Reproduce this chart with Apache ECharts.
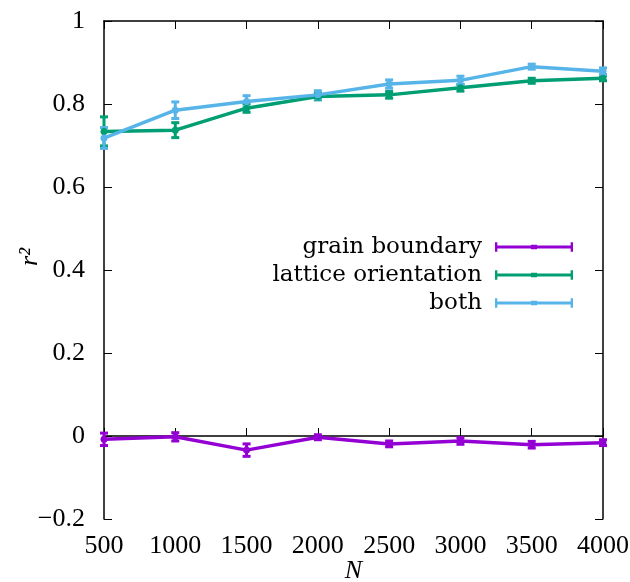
<!DOCTYPE html>
<html><head><meta charset="utf-8">
<script src="https://cdn.jsdelivr.net/npm/echarts@6/dist/echarts.min.js"></script>
<style>html,body{margin:0;padding:0;background:#fff}#c{width:630px;height:582px}</style>
</head><body><div id="c"></div>
<script>
const N = [500, 1000, 1500, 2000, 2500, 3000, 3500, 4000];
const grain = [-0.008, -0.002, -0.034, -0.003, -0.019, -0.012, -0.021, -0.016];
const grainErr = [0.015, 0.010, 0.015, 0.006, 0.007, 0.008, 0.008, 0.007];
const lattice = [0.734, 0.737, 0.790, 0.818, 0.822, 0.839, 0.856, 0.862];
const latticeErr = [0.035, 0.018, 0.010, 0.008, 0.008, 0.008, 0.006, 0.006];
const both = [0.718, 0.785, 0.806, 0.822, 0.848, 0.857, 0.890, 0.879];
const bothErr = [0.025, 0.020, 0.014, 0.010, 0.010, 0.010, 0.006, 0.008];
const names = ['grain boundary', 'lattice orientation', 'both'];
const colors = ['#9400D3', '#009E73', '#56B4E9'];
const yTicks = [-0.2, 0, 0.2, 0.4, 0.6, 0.8, 1];

const FONT = 'Liberation Serif';
const chart = echarts.init(document.getElementById('c'));

function errSeries(vals, errs, color) {
  return {
    type: 'custom', silent: true, z: 3,
    data: N.map((n, i) => [n, vals[i], errs[i]]),
    renderItem: function (params, api) {
      const x = api.value(0), y = api.value(1), e = api.value(2);
      const lo = api.coord([x, y - e]), hi = api.coord([x, y + e]);
      const w = 4;
      return {
        type: 'group',
        children: [
          {type: 'line', shape: {x1: lo[0], y1: lo[1], x2: hi[0], y2: hi[1]}, style: {stroke: color, lineWidth: 3}},
          {type: 'line', shape: {x1: lo[0] - w, y1: lo[1], x2: lo[0] + w, y2: lo[1]}, style: {stroke: color, lineWidth: 3}},
          {type: 'line', shape: {x1: hi[0] - w, y1: hi[1], x2: hi[0] + w, y2: hi[1]}, style: {stroke: color, lineWidth: 3}}
        ]
      };
    }
  };
}
function lineSeries(name, vals, color) {
  return {
    name: name, type: 'line', z: 4,
    data: N.map((n, i) => [n, vals[i]]),
    symbol: 'circle', symbolSize: 7, showSymbol: true,
    lineStyle: {color: color, width: 3.5},
    itemStyle: {color: color},
    emphasis: {disabled: true}
  };
}
const axisLbl = {fontFamily: FONT, fontSize: 26, color: '#000'};
chart.setOption({
  animation: false,
  grid: {left: 104, right: 27, top: 21, bottom: 63, containLabel: false, outerBoundsMode: 'none'},
  legend: {
    data: names, orient: 'vertical', align: 'right', right: 52, top: 228,
    itemWidth: 78, itemHeight: 12, itemGap: 0,
    icon: 'path://M0,2h3v4h94v-4h3v12h-3v-4h-94v4h-3zM46,5h8v6h-8z',
    textStyle: {fontFamily: 'DejaVu Serif', fontSize: 23, lineHeight: 28, color: '#000', padding: [0, 8, 0, 0]},
    selectedMode: false
  },
  xAxis: [{
    type: 'value', min: 500, max: 4000, interval: 500,
    name: 'N', nameLocation: 'middle', nameGap: 39, nameMoveOverlap: false,
    nameTextStyle: {fontFamily: FONT, fontSize: 26, fontStyle: 'italic', color: '#000'},
    axisLine: {lineStyle: {color: '#000', width: 1.5}},
    axisTick: {inside: true, length: 8, lineStyle: {color: '#000'}},
    axisLabel: Object.assign({margin: 14, formatter: function (v) { return String(v); }}, axisLbl),
    splitLine: {show: false}
  }, {
    type: 'value', position: 'top', min: 500, max: 4000, interval: 500,
    axisLine: {show: true, onZero: false, lineStyle: {color: '#000', width: 1.5}},
    axisTick: {inside: true, length: 8, lineStyle: {color: '#000'}},
    axisLabel: {show: false}, splitLine: {show: false}
  }],
  yAxis: [{
    type: 'value', min: -0.2, max: 1, interval: 0.2,
    name: 'r²', nameLocation: 'middle', nameGap: 61, nameRotate: 90, nameMoveOverlap: false,
    nameTextStyle: {fontFamily: FONT, fontSize: 26, fontStyle: 'italic', color: '#000', padding: [0, 0, 0, 26]},
    axisLine: {show: true, onZero: false, lineStyle: {color: '#000', width: 1.5}},
    axisTick: {inside: true, length: 8, lineStyle: {color: '#000'}},
    axisLabel: Object.assign({margin: 19, formatter: function (v) {
      const t = yTicks.find(k => Math.abs(k - v) < 1e-6);
      if (t === undefined) return '';
      return t < 0 ? '\u2212' + Math.abs(t).toFixed(1) : (t === 0 || t === 1 ? String(t) : t.toFixed(1));
    }}, axisLbl),
    splitLine: {show: false}
  }, {
    type: 'value', position: 'right', min: -0.2, max: 1, interval: 0.2,
    axisLine: {show: true, onZero: false, lineStyle: {color: '#000', width: 1.5}},
    axisTick: {inside: true, length: 8, lineStyle: {color: '#000'}},
    axisLabel: {show: false}, splitLine: {show: false}
  }],
  series: [
    errSeries(grain, grainErr, colors[0]),
    errSeries(lattice, latticeErr, colors[1]),
    errSeries(both, bothErr, colors[2]),
    lineSeries(names[0], grain, colors[0]),
    lineSeries(names[1], lattice, colors[1]),
    lineSeries(names[2], both, colors[2])
  ]
});
</script></body></html>
